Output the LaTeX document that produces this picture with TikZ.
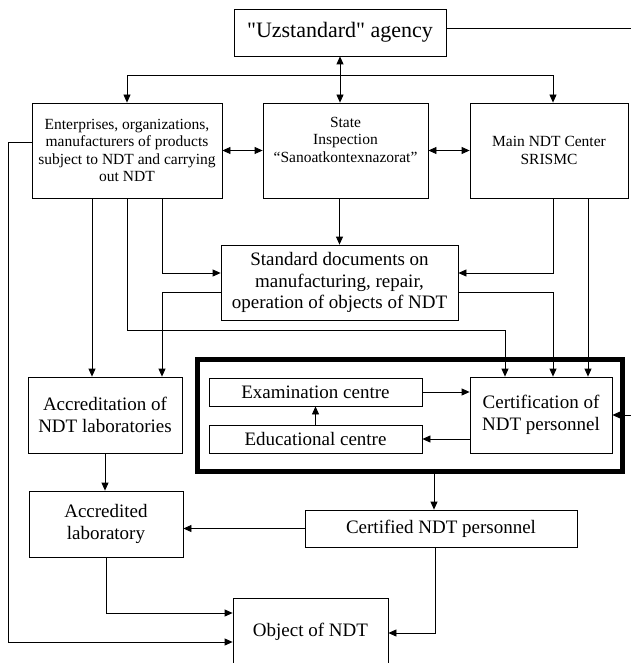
\documentclass[tikz,border=0pt]{standalone}
\usepackage{fontspec}
\setmainfont{Liberation Serif}[Ligatures=ResetAll]
\usetikzlibrary{arrows.meta}

\begin{document}
\begin{tikzpicture}[x=1pt, y=-1pt,
    box/.style = {draw, line width=0.8pt, inner sep=0pt, align=center},
    small/.style = {font=\fontsize{15.5}{17.5}\selectfont},
    large/.style = {font=\fontsize{19}{21.5}\selectfont},
    arr/.style = {line width=0.8pt, -{Triangle[length=8pt, width=7pt]}},
    both/.style = {line width=0.8pt,
      {Triangle[length=8pt, width=7pt]}-{Triangle[length=8pt, width=7pt]}}]
    \useasboundingbox (0,0) rectangle (630,663);
    % top row
    \node[box, font=\fontsize{22}{26}\selectfont, minimum width=212pt, minimum height=47pt]
        (uz) at (340,32.5) {\textquotedbl Uzstandard\textquotedbl{} agency};
    \node[box, small, minimum width=190pt, minimum height=95pt] (ent) at (127,150.5)
        {Enterprises, organizations,\\ manufacturers of products\\ subject to NDT and carrying\\ out NDT};
    \node[box, small, minimum width=165pt, minimum height=95pt] (state) at (345.5,150.5)
        {State\\ Inspection\\ “Sanoatkontexnazorat”\\[4pt]};
    \node[box, small, minimum width=158pt, minimum height=95pt] (main) at (549,150.5)
        {Main NDT Center\\ SRISMC};
    \node[box, large, minimum width=237pt, minimum height=75pt] (std) at (339.5,282.5)
        {Standard documents on\\ manufacturing, repair,\\ operation of objects of NDT};
    % certification block
    \node[draw, line width=5pt, inner sep=0pt, minimum width=425pt, minimum height=112pt]
        (frame) at (410,415.5) {};
    \node[box, large, minimum width=213pt, minimum height=28pt] (exam) at (315.5,392) {Examination centre};
    \node[box, large, minimum width=213pt, minimum height=28pt] (edu) at (315.5,439) {Educational centre};
    \node[box, large, minimum width=142pt, minimum height=76pt] (cert) at (541,415)
        {Certification of\\ NDT personnel};
    % lower part
    \node[box, large, minimum width=154pt, minimum height=76pt] (accr) at (105,415)
        {Accreditation of\\ NDT laboratories};
    \node[box, large, minimum width=154pt, minimum height=66pt] (lab) at (106,524)
        {Accredited\\ laboratory};
    \node[box, large, minimum width=272pt, minimum height=37pt] (certd) at (441,528.5)
        {Certified NDT personnel};
    \node[box, large, minimum width=155pt, minimum height=67pt] (obj) at (310.5,631.5)
        {Object of NDT};

    \coordinate (bus) at (340,75);
    \coordinate (mid) at (505,330);
    \coordinate (lft) at (8,642);
    \coordinate (rim) at (636,28);

    % connectors
    \draw[both] (uz.south) -- (uz.south |- state.north);
    \draw[arr] (bus) -| (ent.north);
    \draw[arr] (bus) -| ([xshift=4pt]main.north);
    \draw[both] (ent.east) -- (state.west);
    \draw[both] (state.east) -- (main.west);
    \draw[arr] (state.south -| std.north) -- (std.north);
    \draw[arr] ([xshift=-35pt]ent.south) -- ([xshift=-35pt]ent.south |- accr.north);
    \draw[arr] ([xshift=35pt]ent.south) |- ([yshift=9.5pt]std.west);
    \draw[arr] (ent.south) |- (mid) -- (mid |- cert.north);
    \draw[arr] ([xshift=4pt]main.south) |- ([yshift=9.5pt]std.east);
    \draw[arr] ([xshift=39pt]main.south) -- ([xshift=39pt]main.south |- cert.north);
    \draw[arr] ([yshift=-9.5pt]std.west) -| ([xshift=57pt]accr.north);
    \draw[arr] ([yshift=-9.5pt]std.east) -| ([xshift=12pt]cert.north);
    \draw[arr] (exam.east) -- (exam.east -| cert.west);
    \draw[arr] (edu.east -| cert.west) -- (edu.east);
    \draw[arr] (edu.north) -- (exam.south);
    \draw[arr] ([yshift=4.5pt]uz.east) -| (rim |- cert.east) -- (cert.east);
    \draw[arr] ([xshift=24pt]frame.south) -- ([xshift=24pt]frame.south |- certd.north);
    \draw[arr] (accr.south) -- (accr.south |- lab.north);
    \draw[arr] (certd.west) -- (certd.west -| lab.east);
    \draw[arr] (lab.south) |- ([yshift=18.5pt]obj.west);
    \draw[arr] ([xshift=-6pt]certd.south) |- ([yshift=-1.5pt]obj.east);
    \draw[arr] ([yshift=8.5pt]ent.west) -| (lft) -- (lft -| obj.west);
\end{tikzpicture}
\end{document}
